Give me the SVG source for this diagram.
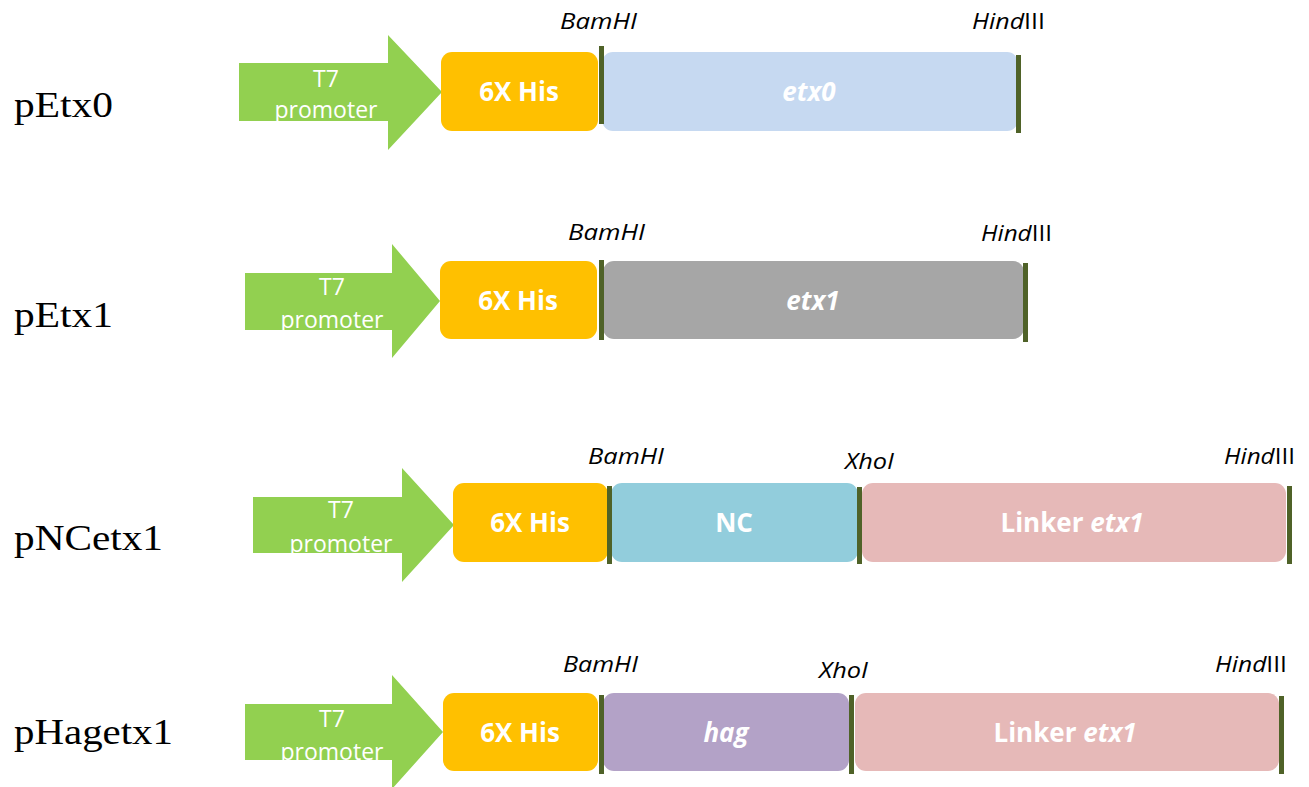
<svg xmlns="http://www.w3.org/2000/svg" width="1309" height="787" viewBox="0 0 1309 787">
<style>
.name{font-family:"Liberation Serif","Times New Roman",serif;font-size:36px;fill:#000}
.prom{font-family:"Open Sans","Liberation Sans",sans-serif;font-size:23px;fill:#fff;text-anchor:middle}
.box{font-family:"Open Sans","Liberation Sans",sans-serif;font-size:26px;font-weight:bold;fill:#fff;text-anchor:middle}
.it{font-style:italic}
.site{font-family:"Open Sans","Liberation Sans",sans-serif;font-size:21px;fill:#000}
.arrow{fill:#92d050}
.his{fill:#ffc000}
.cut{fill:#4f6228}
</style>
<rect width="1309" height="787" fill="#fff"/>

<!-- Row 1: pEtx0 -->
<g id="pEtx0">
  <text class="name" x="14" y="117" textLength="99" lengthAdjust="spacingAndGlyphs">pEtx0</text>
  <g id="pEtx0-promoter">
    <polygon class="arrow" points="239,63 388,63 388,35 442,92 388,150 388,121 239,121"/>
    <text class="prom" x="326" y="87">T7</text>
    <text class="prom" x="326" y="118">promoter</text>
  </g>
  <g id="pEtx0-his">
    <rect class="his" x="441" y="52" width="157" height="79" rx="11"/>
    <text class="box" x="519" y="101">6X His</text>
  </g>
  <g id="pEtx0-etx0">
    <rect x="602" y="52" width="416" height="79" rx="11" fill="#c6d9f1"/>
    <text class="box it" x="809" y="101">etx0</text>
  </g>
  <text class="site it" x="560" y="29" textLength="77" lengthAdjust="spacingAndGlyphs">BamHI</text>
  <text class="site" x="972" y="29" textLength="73" lengthAdjust="spacingAndGlyphs"><tspan class="it">Hind</tspan>III</text>
</g>

<!-- Row 2: pEtx1 -->
<g id="pEtx1">
  <text class="name" x="14" y="327" textLength="99" lengthAdjust="spacingAndGlyphs">pEtx1</text>
  <g id="pEtx1-promoter">
    <polygon class="arrow" points="245,273 392,273 392,244 440,301 392,358 392,330 245,330"/>
    <text class="prom" x="332" y="295">T7</text>
    <text class="prom" x="332" y="328">promoter</text>
  </g>
  <g id="pEtx1-his">
    <rect class="his" x="440" y="261" width="157" height="78" rx="11"/>
    <text class="box" x="518" y="310">6X His</text>
  </g>
  <g id="pEtx1-etx1">
    <rect x="603" y="261" width="421" height="78" rx="11" fill="#a6a6a6"/>
    <text class="box it" x="813" y="310">etx1</text>
  </g>
  <text class="site it" x="568" y="240" textLength="77" lengthAdjust="spacingAndGlyphs">BamHI</text>
  <text class="site" x="981" y="241" textLength="71" lengthAdjust="spacingAndGlyphs"><tspan class="it">Hind</tspan>III</text>
</g>

<!-- Row 3: pNCetx1 -->
<g id="pNCetx1">
  <text class="name" x="14" y="550" textLength="149" lengthAdjust="spacingAndGlyphs">pNCetx1</text>
  <g id="pNCetx1-promoter">
    <polygon class="arrow" points="253,497 402,497 402,468 454,525 402,582 402,553 253,553"/>
    <text class="prom" x="341" y="518">T7</text>
    <text class="prom" x="341" y="552">promoter</text>
  </g>
  <g id="pNCetx1-his">
    <rect class="his" x="453" y="483" width="155" height="79" rx="11"/>
    <text class="box" x="530" y="532">6X His</text>
  </g>
  <g id="pNCetx1-nc">
    <rect x="611" y="483" width="247" height="79" rx="11" fill="#92cddc"/>
    <text class="box" x="734" y="532">NC</text>
  </g>
  <g id="pNCetx1-linker">
    <rect x="862" y="483" width="424" height="79" rx="11" fill="#e6b9b8"/>
    <text class="box" x="1072" y="532">Linker <tspan class="it">etx1</tspan></text>
  </g>
  <text class="site it" x="588" y="464" textLength="76" lengthAdjust="spacingAndGlyphs">BamHI</text>
  <text class="site it" x="845" y="469" textLength="49" lengthAdjust="spacingAndGlyphs">XhoI</text>
  <text class="site" x="1224" y="464" textLength="71" lengthAdjust="spacingAndGlyphs"><tspan class="it">Hind</tspan>III</text>
</g>

<!-- Row 4: pHagetx1 -->
<g id="pHagetx1">
  <text class="name" x="14" y="744" textLength="159" lengthAdjust="spacingAndGlyphs">pHagetx1</text>
  <g id="pHagetx1-promoter">
    <polygon class="arrow" points="245,704 392,704 392,675 443,732 392,789 392,760 245,760"/>
    <text class="prom" x="332" y="727">T7</text>
    <text class="prom" x="332" y="760">promoter</text>
  </g>
  <g id="pHagetx1-his">
    <rect class="his" x="443" y="693" width="155" height="78" rx="11"/>
    <text class="box" x="520" y="742">6X His</text>
  </g>
  <g id="pHagetx1-hag">
    <rect x="603" y="693" width="246" height="78" rx="11" fill="#b3a2c7"/>
    <text class="box it" x="726" y="742">hag</text>
  </g>
  <g id="pHagetx1-linker">
    <rect x="855" y="693" width="424" height="78" rx="11" fill="#e6b9b8"/>
    <text class="box" x="1065" y="742">Linker <tspan class="it">etx1</tspan></text>
  </g>
  <text class="site it" x="563" y="672" textLength="75" lengthAdjust="spacingAndGlyphs">BamHI</text>
  <text class="site it" x="819" y="678" textLength="49" lengthAdjust="spacingAndGlyphs">XhoI</text>
  <text class="site" x="1215" y="672" textLength="72" lengthAdjust="spacingAndGlyphs"><tspan class="it">Hind</tspan>III</text>
</g>

<!-- Restriction-site markers -->
<g id="sites">
  <rect class="cut" x="599" y="46" width="5" height="78"/>
  <rect class="cut" x="1016" y="55" width="5" height="78"/>
  <rect class="cut" x="599" y="260" width="5" height="80"/>
  <rect class="cut" x="1023" y="263" width="5" height="79"/>
  <rect class="cut" x="607" y="486" width="5" height="78"/>
  <rect class="cut" x="857" y="487" width="5" height="77"/>
  <rect class="cut" x="1287" y="486" width="5" height="78"/>
  <rect class="cut" x="599" y="695" width="5" height="79"/>
  <rect class="cut" x="849" y="695" width="5" height="79"/>
  <rect class="cut" x="1279" y="696" width="5" height="78"/>
</g>
</svg>
